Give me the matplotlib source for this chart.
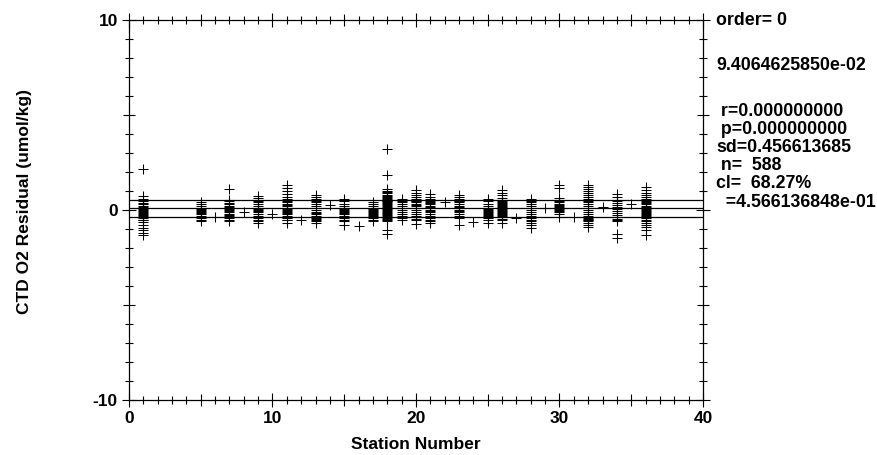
import matplotlib
matplotlib.use("Agg")
import matplotlib.pyplot as plt
from matplotlib.ticker import MultipleLocator, FuncFormatter

plt.rcParams['font.family'] = ['Liberation Sans', 'DejaVu Sans']
plt.rcParams['font.weight'] = 'bold'

# ---- data: residuals per station ----
res_01 = [2.15, 0.75, 0.6, 0.45, 0.35, 0.3, 0.2, 0.15, 0.1, 0.05, 0.0, -0.05, -0.1, -0.15,
          -0.2, -0.25, -0.3, -0.35, -0.4, -0.5, -0.55, -0.65, -0.8, -0.95, -1.05, -1.2, -1.3]
res_05 = [0.4, 0.3, 0.2, 0.1, 0.05, 0.0, -0.05, -0.1, -0.15, -0.2, -0.3, -0.4, -0.5, -0.6]
res_06 = [-0.35]
res_07 = [1.1, 0.55, 0.45, 0.35, 0.3, 0.2, 0.15, 0.1, 0.05, 0.0, -0.05, -0.1, -0.2, -0.25,
          -0.3, -0.4, -0.5, -0.6]
res_08 = [-0.1]
res_09 = [0.75, 0.65, 0.55, 0.45, 0.4, 0.3, 0.2, 0.1, 0.05, 0.0, -0.05, -0.1, -0.2, -0.3,
          -0.35, -0.4, -0.5, -0.6, -0.7]
res_10 = [-0.2]
res_11 = [1.3, 1.15, 1.0, 0.85, 0.7, 0.6, 0.5, 0.4, 0.3, 0.25, 0.2, 0.1, 0.05, 0.0, -0.05,
          -0.1, -0.15, -0.2, -0.3, -0.35, -0.4, -0.5, -0.55, -0.7]
res_12 = [-0.53]
res_13 = [0.8, 0.7, 0.6, 0.5, 0.4, 0.3, 0.2, 0.1, 0.0, -0.1, -0.15, -0.2, -0.3, -0.4, -0.45,
          -0.5, -0.6, -0.7]
res_14 = [0.26]
res_15 = [0.6, 0.45, 0.3, 0.2, 0.1, 0.05, 0.0, -0.05, -0.1, -0.15, -0.2, -0.3, -0.35, -0.4,
          -0.5, -0.6, -0.8]
res_16 = [-0.82]
res_17 = [0.4, 0.3, 0.2, 0.1, 0.05, 0.0, -0.05, -0.1, -0.15, -0.2, -0.25, -0.3, -0.4, -0.5, -0.6]
res_18 = [3.2, 1.85, 1.1, 1.0, 0.95, 0.9, 0.8, 0.75, 0.7, 0.65, 0.6, 0.55, 0.5, 0.45, 0.4,
          0.35, 0.3, 0.25, 0.2, 0.15, 0.1, 0.05, 0.0, -0.05, -0.1, -0.15, -0.2, -0.25, -0.3,
          -0.35, -0.4, -0.45, -0.5, -0.6, -1.05, -1.25]
res_19 = [0.6, 0.5, 0.4, 0.3, 0.2, 0.1, 0.0, -0.1, -0.2, -0.3, -0.4, -0.5]
res_20 = [1.05, 0.9, 0.8, 0.7, 0.6, 0.5, 0.45, 0.4, 0.3, 0.25, 0.2, 0.1, 0.0, -0.1, -0.2,
          -0.3, -0.45, -0.55, -0.75]
res_21 = [0.85, 0.7, 0.6, 0.5, 0.4, 0.35, 0.3, 0.2, 0.15, 0.1, 0.0, -0.05, -0.1, -0.2, -0.3,
          -0.4, -0.5, -0.6, -0.7]
res_22 = [0.44]
res_23 = [0.8, 0.7, 0.6, 0.5, 0.45, 0.4, 0.3, 0.2, 0.15, 0.1, 0.0, -0.05, -0.1, -0.2, -0.3,
          -0.4, -0.8]
res_24 = [-0.65]
res_25 = [0.6, 0.45, 0.3, 0.2, 0.1, 0.05, 0.0, -0.05, -0.1, -0.15, -0.2, -0.25, -0.3, -0.4,
          -0.5, -0.7]
res_26 = [1.05, 0.9, 0.8, 0.65, 0.55, 0.45, 0.4, 0.35, 0.3, 0.25, 0.2, 0.15, 0.1, 0.05, 0.0,
          -0.05, -0.1, -0.15, -0.2, -0.25, -0.3, -0.35, -0.45, -0.55, -0.7]
res_27 = [-0.44]
res_28 = [0.6, 0.5, 0.4, 0.3, 0.2, 0.1, 0.0, -0.1, -0.2, -0.3, -0.4, -0.5, -0.6, -0.7, -0.8,
          -0.95]
res_29 = [0.09]
res_30 = [1.3, 1.15, 0.65, 0.55, 0.45, 0.4, 0.3, 0.25, 0.2, 0.15, 0.1, 0.05, 0.0, -0.05, -0.1,
          -0.2, -0.35]
res_31 = [-0.35]
res_32 = [1.3, 1.2, 1.1, 1.0, 0.9, 0.8, 0.7, 0.6, 0.5, 0.4, 0.3, 0.2, 0.1, 0.0, -0.1, -0.2,
          -0.3, -0.35, -0.4, -0.45, -0.5, -0.55, -0.6, -0.7, -0.8, -0.9]
res_33 = [0.14]
res_34 = [0.85, 0.7, 0.55, 0.45, 0.35, 0.25, 0.15, 0.05, -0.05, -0.15, -0.25, -0.35, -0.45,
          -0.55, -0.6, -1.25, -1.45]
res_35 = [0.3]
res_36 = [1.2, 1.05, 0.9, 0.8, 0.7, 0.6, 0.5, 0.4, 0.35, 0.3, 0.2, 0.15, 0.1, 0.05, 0.0, -0.05,
          -0.1, -0.15, -0.2, -0.25, -0.3, -0.35, -0.4, -0.5, -0.6, -0.7, -0.8, -0.9, -1.05, -1.3]

station_ids = [1, 5, 6, 7, 8, 9, 10, 11, 12, 13, 14, 15, 16, 17, 18, 19, 20, 21, 22, 23, 24,
               25, 26, 27, 28, 29, 30, 31, 32, 33, 34, 35, 36]
station_res = [res_01, res_05, res_06, res_07, res_08, res_09, res_10, res_11, res_12, res_13,
               res_14, res_15, res_16, res_17, res_18, res_19, res_20, res_21, res_22, res_23,
               res_24, res_25, res_26, res_27, res_28, res_29, res_30, res_31, res_32, res_33,
               res_34, res_35, res_36]

fit_mean = 9.4064625850e-02
fit_sd = 0.456613685

stats_lines = ["order= 0", "9.4064625850e-02", " r=0.000000000", " p=0.000000000",
               "sd=0.456613685", " n=  588", "cl=  68.27%", "  =4.566136848e-01"]
stats_ypix = [20.5, 66, 111, 129, 147, 165.5, 184, 202.5]

x_ticklabels = [0, 10, 20, 30, 40]
y_ticklabels = [-10, 0, 10]

# ---- figure ----
W, H = 878, 455
fig = plt.figure(figsize=(W / 100, H / 100), dpi=100)
ax = fig.add_axes([129 / W, 1 - 400 / H, (703 - 129) / W, (400 - 20) / H])

xs, ys = [], []
for s, vals in zip(station_ids, station_res):
    xs.extend([s] * len(vals))
    ys.extend(vals)
ax.plot(xs, ys, linestyle='none', marker='+', ms=6.5, mew=0.75, color='black')

for yv in (fit_mean + fit_sd, fit_mean, fit_mean - fit_sd):
    ax.axhline(yv, color='black', lw=0.9)

ax.set_xlim(0, 40)
ax.set_ylim(-10, 10)

ax.xaxis.set_major_locator(MultipleLocator(5))
ax.xaxis.set_minor_locator(MultipleLocator(1))
ax.yaxis.set_major_locator(MultipleLocator(5))
ax.yaxis.set_minor_locator(MultipleLocator(1))
fmt = FuncFormatter(lambda v, p: f"{v:.0f}" if abs(v % 10) < 1e-9 else "")
ax.xaxis.set_major_formatter(fmt)
ax.yaxis.set_major_formatter(fmt)

ax.tick_params(which='both', direction='inout', top=True, right=True, width=0.8,
               color='black')
ax.tick_params(which='major', length=10, pad=3, labelsize=12.5)
ax.tick_params(which='minor', length=5.8)

def shrink_mid(axis):
    locs = axis.get_majorticklocs()
    ticks = axis.get_major_ticks(len(locs))
    for t, loc in zip(ticks, locs):
        if abs(loc % 10) > 1e-9:
            t.tick1line.set_markersize(8)
            t.tick2line.set_markersize(8)

shrink_mid(ax.xaxis)
shrink_mid(ax.yaxis)

for lab in ax.get_xticklabels() + ax.get_yticklabels():
    lab.set_fontweight('bold')

for sp in ax.spines.values():
    sp.set_linewidth(0.9)
    sp.set_color('black')

ax.set_xlabel("Station Number", fontsize=12.5, fontweight='bold', labelpad=8)
fig.text(25 / W, 1 - 201 / H, "CTD O2 Residual (umol/kg)", rotation=90, fontsize=12.5,
         fontweight='bold', ha='center', va='center')

for txt, yp in zip(stats_lines, stats_ypix):
    fig.text(716 / W, 1 - yp / H, txt, fontsize=12.8, fontweight='bold', ha='left',
             va='center')

fig.savefig("out.png", dpi=100)
